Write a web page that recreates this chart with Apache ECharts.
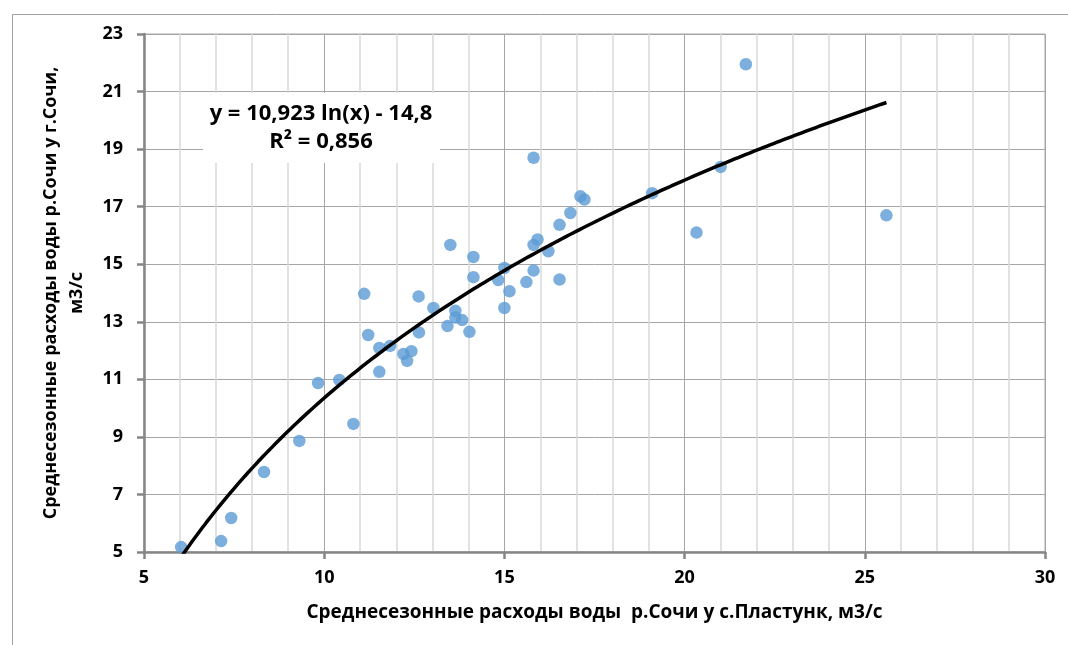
<!DOCTYPE html>
<html>
<head>
<meta charset="utf-8">
<script src="https://cdn.jsdelivr.net/npm/echarts@6/dist/echarts.min.js"></script>
<style>
html,body{margin:0;padding:0;background:#fff;}
#chart{width:1068px;height:645px;}
</style>
</head>
<body>
<div id="chart"></div>
<script>
// Data: [x = discharge at Plastunka, y = discharge at Sochi], m3/s
const plastunkX = [6.03, 7.14, 7.42, 8.33, 9.31, 9.83, 10.42, 10.81, 11.11, 11.22, 11.53, 11.53, 11.83, 12.2, 12.42, 12.3, 12.62, 12.63, 13.03, 13.42, 13.5, 13.64, 13.64, 13.83, 14.03, 14.14, 14.14, 14.83, 15.0, 15.0, 15.14, 15.61, 15.81, 15.81, 15.81, 15.92, 16.22, 16.53, 16.53, 16.83, 17.11, 17.22, 19.1, 20.33, 21.0, 21.7, 25.6];
const sochiY    = [5.17, 5.38, 6.18, 7.78, 8.86, 10.87, 10.98, 9.45, 13.97, 12.54, 12.09, 11.26, 12.16, 11.88, 11.98, 11.64, 13.88, 12.63, 13.48, 12.85, 15.67, 13.38, 13.15, 13.06, 12.65, 15.25, 14.55, 14.45, 14.87, 13.48, 14.06, 14.38, 14.78, 15.67, 18.7, 15.86, 15.45, 16.37, 14.47, 16.78, 17.36, 17.25, 17.47, 16.1, 18.38, 21.95, 16.7];

// Logarithmic trendline shown on the chart: y = a ln(x) + b
const trendA = 10.923;
const trendB = -14.8;
const trendLabel = ['y = 10,923 ln(x) - 14,8', 'R² = 0,856'];

const xTitle = 'Среднесезонные расходы воды  р.Сочи у с.Пластунк, м3/с';
const yTitle = 'Среднесезонные расходы воды р.Сочи у г.Сочи,\nм3/с';

const scatterData = plastunkX.map((x, i) => [x, sochiY[i]]);
const xMinData = Math.min(...plastunkX), xMaxData = Math.max(...plastunkX);
const trendData = [];
const steps = 200;
for (let i = 0; i <= steps; i++) {
  const x = xMinData + (xMaxData - xMinData) * i / steps;
  trendData.push([x, trendA * Math.log(x) + trendB]);
}

const FONT = '"Open Sans"';
const chart = echarts.init(document.getElementById('chart'), null, {renderer: 'canvas'});
chart.setOption({
  animation: false,
  backgroundColor: '#fff',
  grid: {left: 144, right: 23, top: 34, bottom: 93, show: true, borderColor: '#a6a6a6', borderWidth: 1, containLabel: false},
  xAxis: {
    type: 'value', min: 5, max: 30, interval: 5,
    name: xTitle, nameLocation: 'middle', nameGap: 51,
    nameTextStyle: {fontFamily: FONT, fontWeight: 'bold', fontSize: 19, color: '#000'},
    axisLine: {show: true, lineStyle: {color: '#868686', width: 2.5}},
    axisTick: {show: true, inside: false, length: 7, lineStyle: {color: '#868686', width: 2.5}},
    axisLabel: {margin: 17, fontFamily: FONT, fontWeight: 'bold', fontSize: 18, color: '#000'},
    splitLine: {show: true, lineStyle: {color: '#a6a6a6', width: 1}},
    minorTick: {show: false, splitNumber: 5},
    minorSplitLine: {show: true, lineStyle: {color: '#d9d9d9', width: 1.5}}
  },
  yAxis: {
    type: 'value', min: 5, max: 23, interval: 2,
    name: yTitle, nameLocation: 'middle', nameGap: 54, nameRotate: 90,
    nameTextStyle: {fontFamily: FONT, fontWeight: 'bold', fontSize: 18, color: '#000', lineHeight: 26, align: 'center'},
    axisLine: {show: true, lineStyle: {color: '#868686', width: 2.5}},
    axisTick: {show: true, inside: false, length: 7, lineStyle: {color: '#868686', width: 2.5}},
    axisLabel: {margin: 21, fontFamily: FONT, fontWeight: 'bold', fontSize: 18, color: '#000'},
    splitLine: {show: true, lineStyle: {color: '#a6a6a6', width: 1}}
  },
  series: [
    {
      type: 'scatter', data: scatterData, symbolSize: 12.5,
      itemStyle: {color: '#5B9BD5'}, z: 3
    },
    {
      type: 'line', data: trendData, showSymbol: false, smooth: false, clip: true,
      lineStyle: {color: '#000', width: 3.5}, z: 4
    }
  ],
  graphic: [
    {type: 'rect', left: 10, top: 12, shape: {width: 1100, height: 700}, style: {fill: 'none', stroke: '#a0a0a0', lineWidth: 1}, silent: true, z: 100},
    {type: 'rect', shape: {x: 203, y: 93, width: 237, height: 70}, style: {fill: '#fff'}, z: 50},
    {type: 'text', x: 321, y: 114, style: {text: trendLabel[0], font: 'bold 22px ' + FONT, fill: '#000', align: 'center', verticalAlign: 'middle'}, z: 51},
    {type: 'text', x: 321, y: 142, style: {text: trendLabel[1], font: 'bold 22px ' + FONT, fill: '#000', align: 'center', verticalAlign: 'middle'}, z: 51}
  ]
});
</script>
</body>
</html>
